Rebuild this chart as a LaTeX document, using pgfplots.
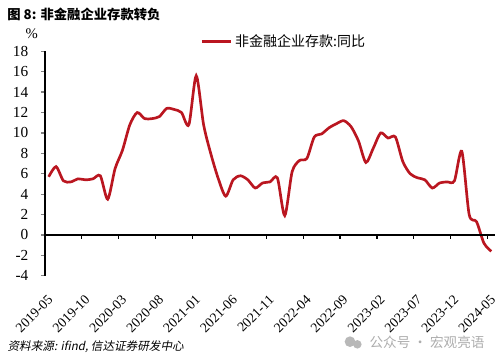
\documentclass[border=0pt]{standalone}
\usepackage{fontspec}
\usepackage{pgfplots}
\pgfplotsset{compat=1.18}
\setmainfont{Liberation Serif}
\newfontfamily\cjk{Noto Sans CJK SC}
\newfontfamily\cjkit{Noto Sans CJK SC}[FakeSlant=0.2]
\definecolor{linered}{RGB}{186,22,32}
\pgfplotstableread{
i v
0 5.7
1 6.7
2 5.3
3 5.2
4 5.5
5 5.4
6 5.5
7 5.8
8 3.5
9 6.5
10 8.3
11 10.8
12 12.0
13 11.4
14 11.4
15 11.6
16 12.4
17 12.3
18 12.0
19 10.8
20 15.6
21 10.8
22 7.9
23 5.5
24 3.8
25 5.4
26 5.8
27 5.4
28 4.6
29 5.1
30 5.2
31 5.6
32 1.9
33 6.2
34 7.3
35 7.5
36 9.6
37 9.9
38 10.5
39 10.9
40 11.2
41 10.6
42 9.2
43 7.1
44 8.5
45 10.0
46 9.5
47 9.6
48 7.2
49 6.0
50 5.6
51 5.4
52 4.6
53 5.1
54 5.2
55 5.3
56 8.2
57 2.0
58 1.3
59 -0.8
60 -1.6
}\deposit
\begin{document}
\begin{tikzpicture}
\useasboundingbox (0,0) rectangle (375pt,272.25pt);
\begin{axis}[
  at={(33.75pt,65.4pt)}, anchor=south west,
  scale only axis, width=337.5pt, height=168.4pt,
  xmin=-0.5, xmax=60.5, ymin=-4, ymax=18,
  ytick={-4,-2,...,18},
  xtick={-0.5,4.5,9.5,14.5,19.5,24.5,29.5,34.5,39.5,44.5,49.5,54.5,59.5},
  xticklabels={2019-05,2019-10,2020-03,2020-08,2021-01,2021-06,2021-11,2022-04,2022-09,2023-02,2023-07,2023-12,2024-05},
  axis x line*=bottom, axis y line*=left,
  x axis line style={draw=none},
  xtick style={draw=none},
  y axis line style={line width=0.9pt},
  ytick style={line width=0.9pt},
  tick align=outside, major tick length=3pt,
  /pgf/number format/assume math mode=true,
  yticklabel style={font=\fontsize{11.5}{12}\selectfont, xshift=-6pt},
  xticklabel style={font=\fontsize{10.3}{11}\selectfont, xshift=6.5pt, yshift=-11pt, rotate=45, anchor=east},
  legend style={draw=none, fill=none, at={(0.345,1.043)}, anchor=west, inner sep=0pt,
    font=\cjk\fontsize{10.5}{11}\selectfont},
  legend image code/.code={\draw[#1] (0pt,0pt) -- (22pt,0pt);},
  clip=false,
]
\addplot[linered, line width=2pt, smooth, tension=0.45] table[x=i, y=v] {\deposit};
\addlegendentry{非金融企业存款:同比}
\draw[line width=0.9pt] (axis cs:-0.5,0) -- (axis cs:60.5,0);
\pgfplotsinvokeforeach{4.5,9.5,14.5,19.5,24.5,29.5,34.5,39.5,44.5,49.5,54.5,59.5}{
  \draw[line width=0.9pt] (axis cs:#1,0) -- ++(0pt,-3pt);
}
\end{axis}
\node[anchor=west, inner sep=0pt] at (5.25pt,261.75pt) {\cjk\bfseries\fontsize{10}{12}\selectfont 图\ 8: 非金融企业存款转负};
\node[inner sep=0pt] at (23.8pt,247.3pt) {\fontsize{11}{12}\selectfont \%};
\node[anchor=west, inner sep=0pt] at (5.5pt,12pt) {\cjkit\fontsize{8.7}{10}\selectfont 资料来源: ifind, 信达证券研发中心};
\fill[black!28] (262.5pt,16pt) circle (4pt);
\fill[black!28] (268pt,14pt) circle (3.2pt);
\node[anchor=west, inner sep=0pt, text=black!32] at (277pt,15.75pt) {\cjk\fontsize{10.2}{12}\selectfont 公众号 · 宏观亮语};
\end{tikzpicture}
\end{document}
